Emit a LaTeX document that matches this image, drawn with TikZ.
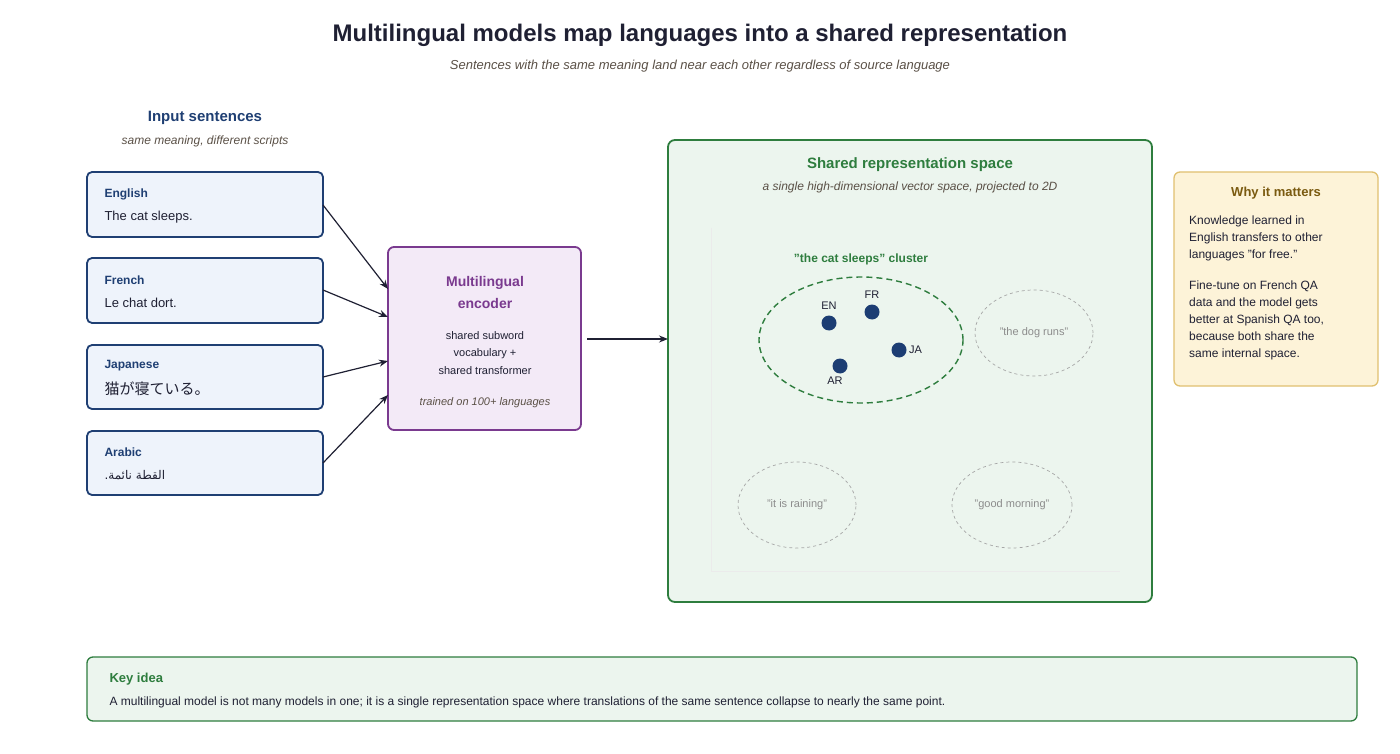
\documentclass[tikz,border=0pt]{standalone}
\usepackage{fontspec}
\setmainfont{Liberation Sans}
\newfontfamily\jpfont{Noto Sans CJK JP}
\newfontfamily\arfont[Script=Arabic]{DejaVu Sans}
\usetikzlibrary{arrows.meta,positioning}
\TeXXeTstate=1
\definecolor{inkdark}{HTML}{1F2033}
\definecolor{subgray}{HTML}{5A5046}
\definecolor{langblue}{HTML}{1F3F73}
\definecolor{langfill}{HTML}{EEF3FB}
\definecolor{encpurple}{HTML}{7A3A8F}
\definecolor{encfill}{HTML}{F3EAF7}
\definecolor{spacegreen}{HTML}{2E7D3E}
\definecolor{spacefill}{HTML}{ECF5EE}
\definecolor{whyline}{HTML}{E0C070}
\definecolor{whyfill}{HTML}{FDF3D8}
\definecolor{whybrown}{HTML}{7A5A10}
\definecolor{dotblue}{HTML}{1C3D73}
\tikzset{
  langbox/.style={draw=langblue, fill=langfill, line width=1.8pt, rounded corners=5pt},
  langname/.style={anchor=west, font=\bfseries\fontsize{12}{14}\selectfont, text=langblue},
  langtext/.style={anchor=west, font=\fontsize{13}{15}\selectfont, text=inkdark},
  feed/.style={-{Stealth[length=9pt,width=7pt]}, line width=1.2pt, draw=inkdark},
  dot/.style={circle, fill=dotblue, minimum size=15pt, inner sep=0pt},
  dotlab/.style={font=\fontsize{11}{13}\selectfont, text=inkdark},
  other/.style={ellipse, draw=gray!70, dashed, line width=0.7pt},
  othertext/.style={font=\fontsize{11}{13}\selectfont, text=gray!90},
  small/.style={font=\fontsize{11}{13}\selectfont, text=inkdark},
}
\usetikzlibrary{shapes.geometric}
\begin{document}
\begin{tikzpicture}[x=1pt, y=-1pt]
  \useasboundingbox (0,0) rectangle (1400,754);
  % Title
  \node (title) at (700,35) {\bfseries\fontsize{24}{28}\selectfont\color{inkdark}Multilingual models map languages into a shared representation};
  \node (subtitle) at (700,66) {\itshape\fontsize{13}{15}\selectfont\color{subgray}Sentences with the same meaning land near each other regardless of source language};
  % Inputs
  \node (inhead) at (205,118) {\bfseries\fontsize{15}{18}\selectfont\color{langblue}Input sentences};
  \node (insub) at (205,141) {\itshape\fontsize{12}{14}\selectfont\color{subgray}same meaning, different scripts};
  \draw[langbox] (87,172) rectangle (323,237);
  \node[langname] (en) at (101,194) {English};
  \node[langtext] (entext) at (101,217) {The cat sleeps.};
  \draw[langbox] (87,258) rectangle (323,323);
  \node[langname] (fr) at (101,280) {French};
  \node[langtext] (frtext) at (101,303) {Le chat dort.};
  \draw[langbox] (87,345) rectangle (323,409);
  \node[langname] (ja) at (101,366) {Japanese};
  \node[langtext] (jatext) at (101,389) {\jpfont\fontsize{15}{17}\selectfont 猫が寝ている。};
  \draw[langbox] (87,431) rectangle (323,495);
  \node[langname] (ar) at (101,452) {Arabic};
  \node[langtext] (artext) at (101,475) {\arfont\fontsize{12}{14}\selectfont\beginR القطة نائمة.\endR};
  \coordinate (enout) at (323,205);
  \coordinate (frout) at (323,290);
  \coordinate (jaout) at (323,377);
  \coordinate (arout) at (323,463);
  % Encoder
  \draw[draw=encpurple, fill=encfill, line width=1.8pt, rounded corners=6pt] (388,247) rectangle (581,430);
  \node[align=center, font=\bfseries\fontsize{14}{22}\selectfont, text=encpurple] (enc) at (485,292) {Multilingual\\encoder};
  \node[align=center, font=\fontsize{11}{17.5}\selectfont, text=inkdark] (encsub) at (485,353) {shared subword\\vocabulary +\\shared transformer};
  \node[font=\itshape\fontsize{11}{13}\selectfont, text=subgray] (enctrain) at (485,403) {trained on 100+ languages};
  \coordinate (encin1) at (388,289);
  \coordinate (encin2) at (388,317);
  \coordinate (encin3) at (388,361);
  \coordinate (encin4) at (388,395);
  \coordinate (encout) at (587,339);
  \draw[feed] (enout) -- (encin1);
  \draw[feed] (frout) -- (encin2);
  \draw[feed] (jaout) -- (encin3);
  \draw[feed] (arout) -- (encin4);
  % Shared space
  \draw[draw=spacegreen, fill=spacefill, line width=1.8pt, rounded corners=7pt] (668,140) rectangle (1152,602);
  \coordinate (spacein) at (668,339);
  \draw[feed] (encout) -- (spacein);
  \node (spacehead) at (910,165) {\bfseries\fontsize{15}{18}\selectfont\color{spacegreen}Shared representation space};
  \node (spacesub) at (910,187) {\itshape\fontsize{12}{14}\selectfont\color{subgray}a single high-dimensional vector space, projected to 2D};
  \draw[black!8, line width=0.8pt] (711,228) -- (711,571) -- (1120,571);
  % Cluster
  \node[ellipse, draw=spacegreen, dashed, dash pattern=on 6pt off 4pt, line width=1.4pt, minimum width=204pt, minimum height=126pt] (cluster) at (861,340) {};
  \node[font=\bfseries\fontsize{12}{14}\selectfont, text=spacegreen] (clusterlab) at (861,259) {"the cat sleeps" cluster};
  \node[dot] (enpt) at (829,323) {};
  \node[dot] (frpt) at (872,312) {};
  \node[dot] (japt) at (899,350) {};
  \node[dot] (arpt) at (840,366) {};
  \node[dotlab, above=2pt of enpt] {EN};
  \node[dotlab, above=2pt of frpt] {FR};
  \node[dotlab, right=-1pt of japt] {JA};
  \node[dotlab, below=0pt of arpt, xshift=-5pt] {AR};
  % Other sentences
  \node[other, minimum width=118pt, minimum height=86pt] (dog) at (1034,333) {};
  \node[othertext] at (dog) {"the dog runs"};
  \node[other, minimum width=118pt, minimum height=86pt] (rain) at (797,505) {};
  \node[othertext] at (rain) {"it is raining"};
  \node[other, minimum width=120pt, minimum height=86pt] (morning) at (1012,505) {};
  \node[othertext] at (morning) {"good morning"};
  % Why it matters
  \draw[draw=whyline, fill=whyfill, line width=1.3pt, rounded corners=6pt] (1174,172) rectangle (1378,386);
  \node (whyhead) at (1276,193) {\bfseries\fontsize{13}{15}\selectfont\color{whybrown}Why it matters};
  \node[anchor=north west, align=left, inner sep=0pt, font=\fontsize{12}{17}\selectfont, text=inkdark] (why1) at (1189,216) {Knowledge learned in\\English transfers to other\\languages "for free."};
  \node[anchor=north west, align=left, inner sep=0pt, font=\fontsize{12}{17}\selectfont, text=inkdark] (why2) at (1189,281) {Fine-tune on French QA\\data and the model gets\\better at Spanish QA too,\\because both share the\\same internal space.};
  % Key idea
  \draw[draw=spacegreen, fill=spacefill, line width=1.3pt, rounded corners=6pt] (87,657) rectangle (1357,721);
  \node[anchor=west, font=\bfseries\fontsize{13}{15}\selectfont, text=spacegreen] (keyhead) at (106,679) {Key idea};
  \node[anchor=west, font=\fontsize{12}{14}\selectfont, text=inkdark] (keytext) at (106,702) {A multilingual model is not many models in one; it is a single representation space where translations of the same sentence collapse to nearly the same point.};
\end{tikzpicture}
\end{document}
